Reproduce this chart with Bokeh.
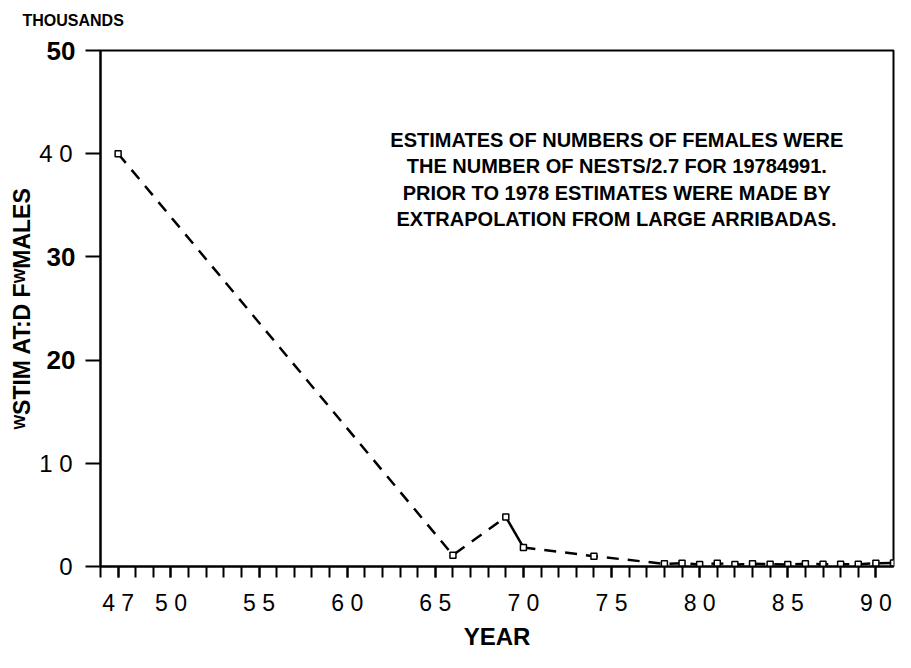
from bokeh.plotting import figure
from bokeh.models import Range1d, FixedTicker, LinearAxis, ColumnDataSource
from bokeh.core.properties import value
from bokeh.embed import file_html
from bokeh.resources import INLINE

# ---------------- data ----------------
years = [47, 66, 69, 70, 74, 78, 79, 80, 81, 82, 83, 84, 85, 86, 87, 88, 89, 90, 91]
females_thousands = [40.0, 1.1, 4.8, 1.85, 1.0, 0.26, 0.32, 0.19, 0.32, 0.19, 0.26,
                     0.22, 0.19, 0.26, 0.22, 0.22, 0.22, 0.32, 0.35]

x_label_years = [47, 50, 55, 60, 65, 70, 75, 80, 85, 90]
x_label_texts = ["4 7", "5 0", "5 5", "6 0", "6 5", "7 0", "7 5", "8 0", "8 5", "9 0"]
x_minor_years = list(range(46, 91))

y_tick_values = [0, 10, 20, 30, 40, 50]
y_bold_labels = {50: "50", 30: "30", 20: "20"}
y_light_labels = {40: "4 0", 10: "1 0", 0: "0"}

note_lines = [
    "ESTIMATES OF NUMBERS OF FEMALES WERE",
    "THE NUMBER OF NESTS/2.7 FOR 19784991.",
    "PRIOR TO 1978 ESTIMATES WERE MADE BY",
    "EXTRAPOLATION FROM LARGE ARRIBADAS.",
]
note_x = [75.3, 75.3, 75.3, 75.3]
note_y = [41.28, 38.79, 36.2, 33.72]

FONT = "Liberation Sans"

p = figure(width=895, height=652, output_backend="svg", toolbar_location=None,
           x_range=Range1d(46, 91.0), y_range=Range1d(0, 50),
           min_border_left=100, min_border_right=2, min_border_top=50, min_border_bottom=84)
p.background_fill_color = "white"
p.border_fill_color = "white"
p.outline_line_color = "black"
p.outline_line_width = 2
p.grid.visible = False

# title (units note, top-left); the empty second line lifts it toward the top edge
p.title.text = "THOUSANDS\n "
p.title.align = "left"
p.title.offset = -78
p.title.standoff = 10
p.title.text_font = FONT
p.title.text_font_size = "16px"
p.title.text_font_style = "bold"
p.title.text_color = "black"

# x axis
xa = p.xaxis[0]
xa.ticker = FixedTicker(ticks=x_label_years, minor_ticks=x_minor_years)
xa.major_label_overrides = {k: t for k, t in zip(x_label_years, x_label_texts)}
xa.axis_line_color = "black"
xa.axis_line_width = 2
xa.major_tick_out = 11
xa.major_tick_in = 0
xa.minor_tick_out = 11
xa.minor_tick_in = 0
xa.major_tick_line_width = 2
xa.minor_tick_line_width = 2
xa.major_tick_line_color = "black"
xa.minor_tick_line_color = "black"
xa.major_label_text_font = FONT
xa.major_label_text_font_size = "23px"
xa.major_label_text_color = "black"
xa.major_label_standoff = 12
xa.axis_label = "YEAR"
xa.axis_label_text_font = FONT
xa.axis_label_text_font_size = "24px"
xa.axis_label_text_font_style = "bold"
xa.axis_label_text_color = "black"
xa.axis_label_standoff = 4

# y axis (line, ticks and bold tick labels)
ya = p.yaxis[0]
ya.ticker = FixedTicker(ticks=y_tick_values, minor_ticks=[])
ya.major_label_overrides = {v: y_bold_labels.get(v, "") for v in y_tick_values}
ya.axis_line_color = "black"
ya.axis_line_width = 2
ya.major_tick_out = 15
ya.major_tick_in = 0
ya.major_tick_line_width = 2
ya.major_tick_line_color = "black"
ya.major_label_text_font = FONT
ya.major_label_text_font_size = "26px"
ya.major_label_text_font_style = "bold"
ya.major_label_text_color = "black"
ya.major_label_standoff = 10

# second left axis: the lighter tick labels and the axis title
ya2 = LinearAxis(ticker=FixedTicker(ticks=y_tick_values, minor_ticks=[]))
ya2.major_label_overrides = {v: y_light_labels.get(v, "") for v in y_tick_values}
ya2.axis_line_color = None
ya2.major_tick_line_color = None
ya2.minor_tick_line_color = None
ya2.major_tick_out = 0
ya2.major_tick_in = 0
ya2.minor_tick_out = 0
ya2.minor_tick_in = 0
ya2.major_label_text_font = FONT
ya2.major_label_text_font_size = "24px"
ya2.major_label_text_font_style = "normal"
ya2.major_label_text_color = "black"
ya2.major_label_standoff = -29
ya2.axis_label = "ᵂSTIM AT:D FᵂMALES"
ya2.axis_label_text_font = FONT
ya2.axis_label_text_font_size = "23px"
ya2.axis_label_text_font_style = "bold"
ya2.axis_label_text_color = "black"
ya2.axis_label_standoff = 1
p.add_layout(ya2, "left")

# data lines
dash = "12 9"
p.line(years[0:3], females_thousands[0:3], line_color="black", line_width=2.5, line_dash=dash)
p.line(years[2:4], females_thousands[2:4], line_color="black", line_width=2.5)
p.line(years[3:], females_thousands[3:], line_color="black", line_width=2.5, line_dash=dash)
p.scatter(years, females_thousands, marker="square", size=6, fill_color="white",
          line_color="black", line_width=1.5)

# note
src = ColumnDataSource(dict(x=note_x, y=note_y, text=note_lines))
p.text(x="x", y="y", text="text", source=src, text_font=value(FONT),
       text_font_style="bold", text_font_size="20px", text_align="center",
       text_baseline="middle", text_color="black")

open("out.html", "w").write(file_html(p, INLINE))
